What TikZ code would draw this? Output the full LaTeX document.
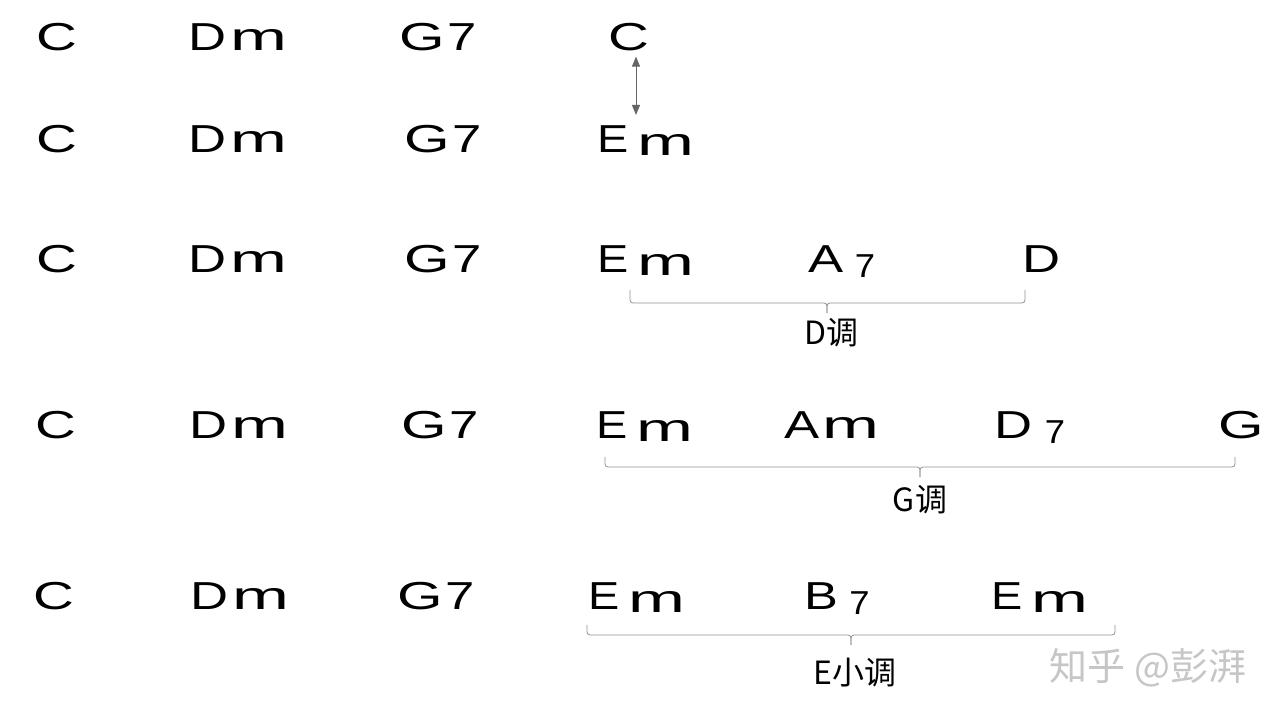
\documentclass[tikz,border=0pt]{standalone}
\usepackage{graphicx}
\usepackage{fontspec}
\setmainfont{Liberation Sans}
\newfontfamily\cjkfont{Noto Sans CJK SC}
\usetikzlibrary{arrows.meta}
\newcommand{\chs}[2]{\scalebox{#1}[1]{#2}}
\newcommand{\Cc}{\chs{1.45}{C}}
\newcommand{\Dd}{\chs{1.35}{D}}
\newcommand{\Ee}{\chs{1.2}{E}}
\newcommand{\Gg}{\chs{1.5}{G}}
\newcommand{\Aa}{\chs{1.35}{A}}
\newcommand{\Bb}{\chs{1.3}{B}}
\newcommand{\mm}{\chs{1.75}{m}}
\newcommand{\sv}{\chs{1.35}{7}}
\newcommand{\lowsv}{\raisebox{-5pt}{\scalebox{0.85}{\chs{1.1}{7}}}}
\newcommand{\Dm}{\Dd\hspace{4pt}\mm}
\newcommand{\Em}{\Ee\hspace{8pt}\raisebox{-3pt}{\mm}}
\newcommand{\Gs}{\Gg\hspace{2pt}\sv}
\tikzset{
  chord/.style={anchor=base, inner sep=0pt, font=\fontsize{39}{40}\selectfont},
  keylabel/.style={inner sep=0pt, font=\cjkfont\fontsize{32}{34}\selectfont},
  bracket/.style={draw=gray!85, line width=0.8pt, rounded corners=3pt},
  dbl/.style={draw=black!60, line width=1pt, {Triangle[length=10pt,width=8pt]}-{Triangle[length=10pt,width=8pt]}},
  wmark/.style={inner sep=0pt, text=gray!45, font=\cjkfont\fontsize{38}{40}\selectfont}
}
\begin{document}
\begin{tikzpicture}[x=1pt,y=-1pt]
\useasboundingbox[fill=white] (0,0) rectangle (1280,720);
% row 1
\node[chord] (c11) at (57,50) {\Cc};
\node[chord] (c12) at (238,50) {\Dm};
\node[chord] (c13) at (438,50) {\Gs};
\node[chord] (c14) at (629,50) {\Cc};
% row 2
\node[chord] (c21) at (57,152) {\Cc};
\node[chord] (c22) at (238,152) {\Dm};
\node[chord] (c23) at (443,152) {\Gs};
\node[chord] (c24) at (646,152) {\Em};
% row 3
\node[chord] (c31) at (57,272) {\Cc};
\node[chord] (c32) at (238,272) {\Dm};
\node[chord] (c33) at (443,272) {\Gs};
\node[chord] (c34) at (646,272) {\Em};
\node[chord] (c35) at (842,272) {\Aa\hspace{11pt}\lowsv};
\node[chord] (c36) at (1041,272) {\Dd};
% row 4
\node[chord] (c41) at (56,438) {\Cc};
\node[chord] (c42) at (239,438) {\Dm};
\node[chord] (c43) at (440,438) {\Gs};
\node[chord] (c44) at (645,438) {\Em};
\node[chord] (c45) at (832,438) {\Aa\hspace{3pt}\mm};
\node[chord] (c46) at (1030,438) {\Dd\hspace{12pt}\lowsv};
\node[chord] (c47) at (1241,438) {\Gg};
% row 5
\node[chord] (c51) at (54,609) {\Cc};
\node[chord] (c52) at (240,609) {\Dm};
\node[chord] (c53) at (436,609) {\Gs};
\node[chord] (c54) at (637,609) {\Em};
\node[chord] (c55) at (837,609) {\Bb\hspace{11pt}\lowsv};
\node[chord] (c56) at (1040,609) {\Em};
% arrow between C and Em
\coordinate (a1) at ([xshift=7pt]c14.south);
\draw[dbl, shorten <=6pt, shorten >=10pt] (a1) -- (a1 |- c24.north);
% bracket D
\coordinate (b3l) at (630,290);
\coordinate (b3r) at (1025,290);
\coordinate (b3m) at (827,303);
\coordinate (b3t) at (827,313);
\draw[bracket] (b3l) -- (b3l |- b3m) -- (b3m) -- (b3t);
\draw[bracket] (b3r) -- (b3r |- b3m) -- (b3m) -- (b3t);
\node[keylabel] (k3) at (831,333) {D调};
% bracket G
\coordinate (b4l) at (605,457);
\coordinate (b4r) at (1235,457);
\coordinate (b4m) at (920,467);
\coordinate (b4t) at (920,477);
\draw[bracket] (b4l) -- (b4l |- b4m) -- (b4m) -- (b4t);
\draw[bracket] (b4r) -- (b4r |- b4m) -- (b4m) -- (b4t);
\node[keylabel] (k4) at (920,500) {G调};
% bracket E minor
\coordinate (b5l) at (587,625);
\coordinate (b5r) at (1115,625);
\coordinate (b5m) at (851,635);
\coordinate (b5t) at (851,645);
\draw[bracket] (b5l) -- (b5l |- b5m) -- (b5m) -- (b5t);
\draw[bracket] (b5r) -- (b5r |- b5m) -- (b5m) -- (b5t);
\node[keylabel] (k5) at (855,673) {E小调};
% watermark
\node[wmark] (wm) at (1148,668) {知乎 @彭湃};
\end{tikzpicture}
\end{document}
